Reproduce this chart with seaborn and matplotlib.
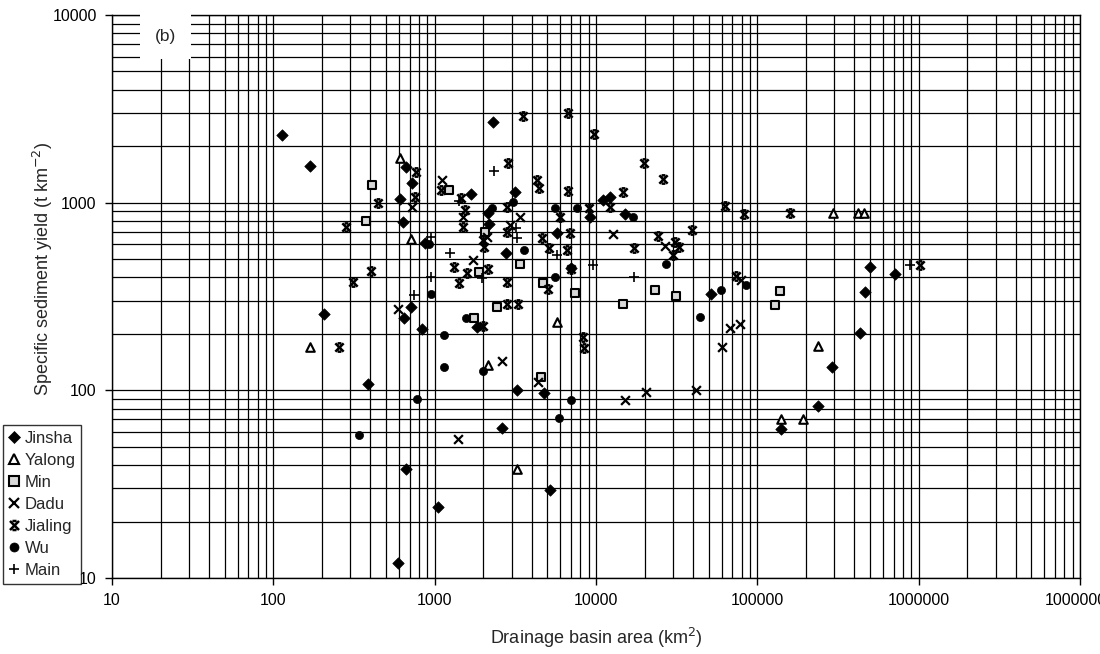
import numpy as np
import pandas as pd
import matplotlib
matplotlib.use("Agg")
import matplotlib.pyplot as plt
import seaborn as sns
from matplotlib.path import Path
from matplotlib.lines import Line2D
from matplotlib.ticker import FuncFormatter, NullFormatter, LogLocator

# ---------------- data (area km2, specific sediment yield t/km2) ----------------
jinsha_x = [113, 169, 610, 206, 385, 590, 711, 646, 832, 662, 5190, 1045, 1820, 3240, 4790,
            2630, 434000, 290000, 239000, 140000, 500000, 715000, 466000, 51700, 2310, 1670,
            3150, 2150, 9190, 11100, 12200, 15100, 2180, 5710, 2760, 665, 721, 634, 870, 7000]
jinsha_y = [2300, 1570, 1050, 254, 108, 12, 277, 242, 212, 38, 29.5, 24, 218, 100, 97,
            63, 203, 133, 83, 62, 456, 417, 333, 326, 2700, 1110,
            1145, 878, 836, 1030, 1070, 871, 767, 687, 542, 1545, 1280, 792, 607, 450]

yalong_x = [610, 169, 3230, 2130, 5770, 239000, 140000, 191000, 294000, 422000, 459000, 711]
yalong_y = [1730, 170, 38, 137, 232, 173, 70, 70, 880, 880, 880, 638]

min_x = [408, 374, 1750, 2430, 4590, 14600, 129000, 138000, 23200, 31400, 1220, 2050,
         1870, 3380, 4720, 7420]
min_y = [1240, 800, 242, 277, 118, 290, 285, 340, 343, 320, 1170, 700,
         426, 470, 372, 329]

dadu_x = [596, 1390, 2620, 4360, 15100, 20400, 41600, 67800, 78200, 60300, 26800, 79000,
          1110, 1490, 2930, 3380, 12800, 1740, 721, 2100]
dadu_y = [270, 55, 143, 111, 89, 98, 100, 214, 226, 171, 588, 385,
          1320, 842, 760, 842, 679, 495, 952, 660]

jialing_x = [448, 284, 404, 313, 257, 1990, 2800, 3280, 8280, 8440, 160000, 1020000, 19700,
             26200, 63100, 82800, 39300, 24400, 30900, 32900, 30200, 17100, 74000, 3550,
             6680, 9770, 2840, 1100, 1450, 1540, 1490, 2800, 4300, 4440, 6680, 9060, 5990,
             12200, 14800, 1990, 2020, 2800, 4610, 6910, 5140, 6590, 1310, 1580, 2130, 1420,
             2820, 7010, 5070, 767, 756]
jialing_y = [1000, 740, 430, 380, 170, 220, 289, 290, 192, 168, 880, 466, 1620,
             1340, 960, 870, 715, 665, 620, 583, 526, 571, 405, 2900,
             3000, 2310, 1620, 1170, 1055, 915, 745, 945, 1320, 1190, 1160, 934, 842,
             952, 1145, 633, 583, 700, 646, 687, 571, 560, 453, 421, 443, 375,
             379, 443, 347, 1460, 1076]

wu_x = [340, 1140, 1140, 780, 1570, 1990, 7010, 5910, 44000, 16900, 27200, 59400, 84900,
        3050, 2260, 5570, 7670, 3600, 5570, 920, 946]
wu_y = [58, 196, 133, 90, 242, 127, 89, 71, 247, 836, 470, 343, 364,
        1005, 934, 934, 934, 560, 403, 600, 326]

main_x = [886000, 17100, 2340, 1420, 3180, 3230, 5710, 1250, 1960, 9550, 946, 946, 749]
main_y = [466, 400, 1480, 1020, 730, 646, 526, 542, 396, 466, 659, 403, 322]

series_names = ["Jinsha", "Yalong", "Min", "Dadu", "Jialing", "Wu", "Main"]

# ---------------- style ----------------
sns.set_style("white")
plt.rcParams["font.family"] = ["Liberation Sans", "DejaVu Sans"]

jialing_marker = Path(
    [(-1, -1), (1, 1), (-1, 1), (1, -1), (-0.45, 1), (0.45, 1), (-0.45, -1), (0.45, -1)],
    [Path.MOVETO, Path.LINETO, Path.MOVETO, Path.LINETO,
     Path.MOVETO, Path.LINETO, Path.MOVETO, Path.LINETO])

styles = {
    "Jinsha": dict(marker="D", s=34, color="black", edgecolor="black", linewidth=0.5),
    "Yalong": dict(marker="^", s=38, color="white", edgecolor="black", linewidth=1.5),
    "Min": dict(marker="s", s=30, color="#d8d8d8", edgecolor="black", linewidth=1.5),
    "Dadu": dict(marker="x", s=40, color="black", linewidth=1.6),
    "Jialing": dict(marker=jialing_marker, s=36, color="black", edgecolor="black", linewidth=1.8),
    "Wu": dict(marker="o", s=34, color="black", edgecolor="black", linewidth=0.5),
    "Main": dict(marker="+", s=50, color="black", linewidth=1.2),
}

data = {
    "Jinsha": (jinsha_x, jinsha_y), "Yalong": (yalong_x, yalong_y), "Min": (min_x, min_y),
    "Dadu": (dadu_x, dadu_y), "Jialing": (jialing_x, jialing_y), "Wu": (wu_x, wu_y),
    "Main": (main_x, main_y),
}

fig = plt.figure(figsize=(11, 6.54), dpi=100)
ax = fig.add_axes([112 / 1100, 1 - 578 / 654, (1080 - 112) / 1100, (578 - 15) / 654])

for name in series_names:
    xs, ys = data[name]
    df = pd.DataFrame({"area": xs, "ssy": ys})
    sns.scatterplot(data=df, x="area", y="ssy", ax=ax, legend=False, zorder=3, **styles[name])

ax.set_xscale("log")
ax.set_yscale("log")
ax.set_xlim(10, 1e7)
ax.set_ylim(10, 1e4)

ax.xaxis.set_major_locator(LogLocator(base=10, numticks=20))
ax.yaxis.set_major_locator(LogLocator(base=10, numticks=20))
ax.xaxis.set_minor_locator(LogLocator(base=10, subs=np.arange(2, 10), numticks=100))
ax.yaxis.set_minor_locator(LogLocator(base=10, subs=np.arange(2, 10), numticks=100))
fmt = FuncFormatter(lambda v, p: f"{int(round(v))}")
ax.xaxis.set_major_formatter(fmt)
ax.yaxis.set_major_formatter(fmt)
ax.xaxis.set_minor_formatter(NullFormatter())
ax.yaxis.set_minor_formatter(NullFormatter())
ax.tick_params(which="major", direction="out", length=5, width=1, colors="black",
               labelsize=11.5, pad=6, bottom=True, left=True)
ax.tick_params(which="minor", length=0)

ax.grid(True, which="both", color="black", linewidth=0.9)
for sp in ax.spines.values():
    sp.set_color("black")
    sp.set_linewidth(1.0)

ax.set_xlabel("Drainage basin area (km$^2$)", fontsize=13, labelpad=13)
ax.set_ylabel("Specific sediment yield (t km$^{-2}$)", fontsize=13)
ax.yaxis.set_label_coords((55 - 112) / 968, (578 - 269) / 563)

ax.text(0.055, 0.962, "(b)", transform=ax.transAxes, fontsize=12.5, ha="center", va="center",
        bbox=dict(boxstyle="square,pad=0.85", facecolor="white", edgecolor="none"), zorder=4)

handles = []
for name in series_names:
    st = styles[name]
    mk = st["marker"]
    fc = st.get("color", "black")
    handles.append(Line2D([], [], linestyle="none", marker=mk, markersize=6.5,
                          markerfacecolor=fc, markeredgecolor="black",
                          markeredgewidth=st.get("linewidth", 1.0), color="black"))
leg = fig.legend(handles, series_names, loc="lower left",
                 bbox_to_anchor=(3 / 1100, 1 - 584 / 654), fontsize=12,
                 frameon=True, fancybox=False, handlelength=0.6, handletextpad=0.35,
                 labelspacing=0.42, borderpad=0.35, borderaxespad=0)
leg.get_frame().set_edgecolor("black")
leg.get_frame().set_linewidth(1.0)

fig.savefig("out.png", dpi=100, facecolor="white")
